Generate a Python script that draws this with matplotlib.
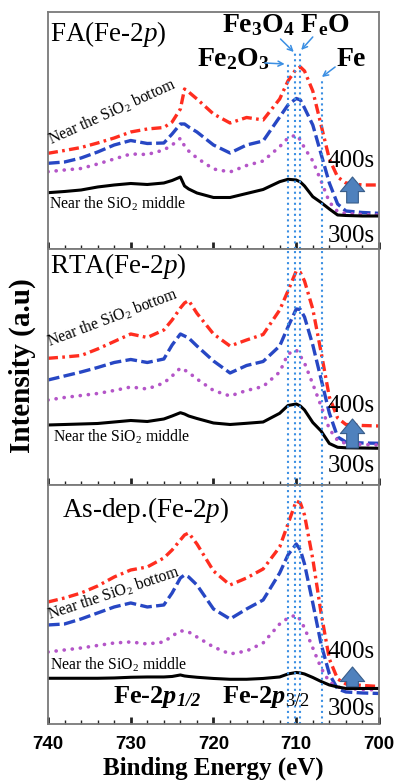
import matplotlib
matplotlib.use('Agg')
import matplotlib.pyplot as plt

plt.rcParams['font.family'] = ['Liberation Serif', 'DejaVu Serif']
plt.rcParams['mathtext.fontset'] = 'custom'
plt.rcParams['mathtext.rm'] = 'Liberation Serif'
plt.rcParams['mathtext.it'] = 'Liberation Serif:italic'
plt.rcParams['mathtext.bf'] = 'Liberation Serif:bold'
if 'mathtext.bfit' in plt.rcParams:
    plt.rcParams['mathtext.bfit'] = 'Liberation Serif:italic:bold'

# binding energy grid (eV)
energy = [740, 738, 736, 734, 732, 730, 728, 726, 725, 724, 723.5, 723, 722, 720, 718, 716,
          714, 712, 711, 710, 709.5, 709, 708, 707, 706, 705, 704, 702, 700]

# FA panel (a.u.)
fa_400 = [95.7, 98.5, 101.5, 106, 111, 117, 120, 121.5, 127, 140, 160, 157, 150, 135, 126, 131.5,
          129, 150, 168, 180, 182, 178, 158, 124, 90, 72, 66, 64, 64]
fa_367 = [85.7, 87, 91, 97, 104, 108.5, 105.5, 106, 115, 125, 125, 122, 117, 104, 96, 104,
          108, 132, 144, 150.5, 149, 141, 124, 95, 66, 45, 38, 36.5, 35.7]
fa_333 = [77.3, 79, 80.5, 85, 90, 95, 94.5, 99, 104, 110.7, 103, 98, 91, 80, 77, 83.5,
          88, 102.3, 111, 114, 109, 101, 88, 68, 47, 37.5, 35.5, 34.5, 34]
fa_300 = [56.3, 57.5, 59, 62, 64, 65.5, 64.5, 66, 68.5, 72, 63, 60, 56, 51.5, 51.5, 55.5,
          59.5, 67.3, 69.7, 69, 67, 63, 52.3, 46.5, 40, 34, 33.5, 33, 33]

# RTA panel
rta_400 = [126.7, 128, 129.5, 136, 143.5, 151, 147.5, 155, 165, 177, 182, 184.5, 171.7, 151, 139, 145,
           150.5, 175, 194, 214, 212.5, 204, 176, 133, 88, 67, 60.5, 59.5, 59]
rta_367 = [105, 109, 113, 117.5, 122.5, 125.5, 122.5, 126, 140, 151, 149, 147, 139, 124, 112, 119.5,
           123.5, 139, 158, 176, 175.5, 168, 140, 106, 72, 48, 43, 42, 41.7]
rta_333 = [85, 87.5, 89.5, 91.5, 94.5, 98, 96, 102, 109, 117, 115, 112.5, 106, 94.5, 89, 94.5,
           98.5, 113, 131, 135, 129, 122, 101, 79, 56, 44.5, 41.5, 40.5, 40]
rta_300 = [60, 60.5, 61, 61.5, 63, 64.5, 63.5, 66, 69, 72.3, 71, 69, 66.5, 62, 60.5, 61.7,
           63, 71.7, 79.5, 81, 79, 75, 62.5, 54, 41.5, 37.7, 37.2, 37, 36.7]

# As-dep. panel
asd_400 = [122, 126, 131, 138, 147, 154, 157, 166, 174, 184, 189, 191, 180, 153, 139, 146,
           155, 177, 200, 223, 221, 209, 165, 111, 65, 45, 40, 38.5, 37.5]
asd_367 = [99, 100, 105, 111, 117, 121, 117, 119, 131, 146, 149, 147, 139, 115, 105, 115,
           124, 151, 169, 180, 174, 160, 121, 80, 50, 35, 32, 31, 30.5]
asd_333 = [72, 74, 76, 78.5, 81, 82, 80, 82, 88, 93, 93, 92, 87, 77, 70, 73,
           81, 100, 106, 109, 104, 96, 76, 56, 42, 37, 35.5, 34.5, 34]
asd_300 = [45.7, 45.7, 45.7, 45.7, 46, 46.7, 47, 47, 47.5, 49, 48, 47.5, 46.7, 45.5, 44.7, 44.7,
           45.5, 47, 50, 51.5, 51, 50, 46.5, 42.5, 39, 37, 35.5, 35.5, 35.5]

# reference peak positions (eV)
ref_names = ['Fe2O3', 'Fe3O4', 'FeO', 'Fe']
ref_pos = [711.0, 710.1, 709.5, 706.9]

RED = '#ff2d1f'
BLUE = '#2747c4'
MAG = '#b455c8'
LBLUE = '#3b8fe3'


def draw_panel(ax, s400, s367, s333, s300, ymax):
    ax.plot(energy, s400, color=RED, lw=2.4, ls=(0, (3, 1.3, 0.8, 1.3)))
    ax.plot(energy, s367, color=BLUE, lw=2.4, ls=(0, (3.5, 1.3)))
    ax.plot(energy, s333, color=MAG, lw=2.6, ls=(0, (0.05, 2.2)), dash_capstyle='round')
    ax.plot(energy, s300, color='k', lw=2.2)
    ax.set_xlim(740, 700)
    ax.set_ylim(0, ymax)
    ax.set_xticks([740, 730, 720, 710, 700])
    ax.set_xticks(range(700, 741, 2), minor=True)
    ax.set_yticks([])
    ax.tick_params(axis='x', which='major', direction='in', length=5, width=2, color='#222222',
                   pad=9, labelsize=13.5)
    ax.tick_params(axis='x', which='minor', direction='in', length=3, width=1, color='#222222')
    for lab in ax.get_xticklabels():
        lab.set_family('Liberation Sans')
        lab.set_fontweight('bold')
    for sp in ax.spines.values():
        sp.set_color('#7a7a7a')
        sp.set_linewidth(1.3)


def side_marks(ax, y400, y300, a_base, a_tip):
    ax.text(706.2, y400, '400s', fontsize=18, ha='left', va='baseline')
    ax.text(706.2, y300, '300s', fontsize=18, ha='left', va='baseline')
    ax.annotate('', xy=(703.2, a_tip), xytext=(703.2, a_base),
                arrowprops=dict(arrowstyle='simple,head_length=0.75,head_width=1.25,tail_width=0.6',
                                fc='#4f81bd', ec='#385d8a', lw=0.8, shrinkA=0, shrinkB=0,
                                mutation_scale=14))


fig = plt.figure(figsize=(3.94, 7.83), dpi=100)
ax1 = fig.add_axes([0.1218, 0.6820, 0.8401, 0.3027])
ax2 = fig.add_axes([0.1218, 0.3806, 0.8401, 0.3014])
ax3 = fig.add_axes([0.1218, 0.0754, 0.8401, 0.3052])

draw_panel(ax1, fa_400, fa_367, fa_333, fa_300, 237)
draw_panel(ax2, rta_400, rta_367, rta_333, rta_300, 236)
draw_panel(ax3, asd_400, asd_367, asd_333, asd_300, 239)
ax1.set_xticklabels([])
ax2.set_xticklabels([])

# dotted reference lines
tops = [186, 196, 196, 171]
for e, t in zip(ref_pos, tops):
    ax1.plot([e, e], [0, t], ls=':', color=LBLUE, lw=1.5)
    ax2.axvline(e, ls=':', color=LBLUE, lw=1.5)
    ax3.axvline(e, ls=':', color=LBLUE, lw=1.5)

# panel titles
ax1.text(739.8, 208, 'FA(Fe-2$p$)', fontsize=19.5, ha='left', va='baseline')
ax2.text(739.8, 212, 'RTA(Fe-2$p$)', fontsize=19.5, ha='left', va='baseline')
ax3.text(738.3, 207, 'As-dep.(Fe-2$p$)', fontsize=19.5, ha='left', va='baseline')

# phase labels and arrows
ax1.text(719.0, 217, r'Fe$_\mathbf{3}$O$_\mathbf{4}$ F$_\mathbf{e}$O', fontsize=20,
         fontweight='bold', ha='left', va='baseline')
ax1.text(722.0, 183, r'Fe$_\mathbf{2}$O$_\mathbf{3}$', fontsize=20, fontweight='bold',
         ha='left', va='baseline')
ax1.text(705.1, 183, 'Fe', fontsize=20, fontweight='bold', ha='left', va='baseline')
thin = dict(arrowstyle='->', color=LBLUE, lw=1.1, shrinkA=0, shrinkB=0, mutation_scale=9)
ax1.annotate('', xy=(711.4, 185), xytext=(713.8, 186), arrowprops=thin)
ax1.annotate('', xy=(710.3, 197), xytext=(711.9, 210), arrowprops=thin)
ax1.annotate('', xy=(709.4, 199), xytext=(708.0, 212), arrowprops=thin)
ax1.annotate('', xy=(706.9, 172), xytext=(705.3, 182), arrowprops=thin)

# curve labels
ax1.text(739.6, 104, 'Near the SiO$_2$ bottom', fontsize=11.3, rotation=24.4,
         rotation_mode='anchor', ha='left', va='baseline')
ax1.text(739.9, 40.7, 'Near the SiO$_2$ middle', fontsize=11.3, ha='left', va='baseline')
ax2.text(739.8, 138.3, 'Near the SiO$_2$ bottom', fontsize=11.3, rotation=20.7,
         rotation_mode='anchor', ha='left', va='baseline')
ax2.text(739.4, 43.3, 'Near the SiO$_2$ middle', fontsize=11.3, ha='left', va='baseline')
ax3.text(739.8, 104, 'Near the SiO$_2$ bottom', fontsize=11.3, rotation=18.5,
         rotation_mode='anchor', ha='left', va='baseline')
ax3.text(739.8, 54, 'Near the SiO$_2$ middle', fontsize=11.3, ha='left', va='baseline')

side_marks(ax1, 82, 7, 46, 72)
side_marks(ax2, 73.3, 13.3, 37, 66)
side_marks(ax3, 65.7, 9, 37.3, 57)

ax3.text(732.1, 21.3, r'Fe-2$\mathbfit{p}_{\mathbfit{1/2}}$', fontsize=19, fontweight='bold',
         ha='left', va='baseline')
ax3.text(719.0, 21.3, r'Fe-2$\mathbfit{p}_{\mathit{3/2}}$', fontsize=19, fontweight='bold',
         ha='left', va='baseline')

ax3.set_xlabel('Binding Energy (eV)', fontsize=18, fontweight='bold', labelpad=2)
fig.text(0.056, 0.533, 'Intensity (a.u)', fontsize=21, fontweight='bold', rotation=90,
         ha='center', va='center')

plt.savefig('out.png', dpi=100)
